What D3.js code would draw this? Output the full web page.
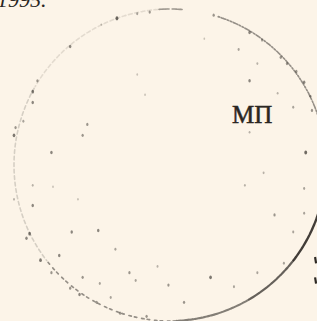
<!DOCTYPE html>
<html>
<head>
<meta charset="utf-8">
<script src="https://cdn.jsdelivr.net/npm/d3@7"></script>
<style>
  html, body { margin: 0; padding: 0; background: #fcf4e8; }
  svg { display: block; }
</style>
</head>
<body>
<svg id="chart" width="317" height="321"></svg>
<script>
// ---- data ----
const stampLabel = "МП";
const headerText = "1995.";

// ring segments: [startDeg, endDeg, ink 0..1, solid?]
const ringSegments = [
  [-4, 5, 0.45, 0],
  [18, 75, 0.5, 0],
  [75, 100, 0.25, 0],
  [100, 128, 0.95, 1],
  [128, 150, 0.75, 1],
  [150, 178, 0.6, 1],
  [178, 232, 0.5, 0],
  [232, 300, 0.15, 0],
  [300, 356, 0.08, 0]
];

// speckles in stamp units (u, v in radius units, from centre), ink 0..1
const speckleU = [-0.34,-0.64,-0.85,-0.88,-0.88,-0.94,-0.99,-1.0,-0.53,-0.56,-0.76,-0.21,-0.13,-0.44,-0.16,-0.21,
  0.28,0.51,0.59,0.44,0.51,0.71,0.75,0.81,0.86,0.90,0.91,0.79,0.87,0.69,0.22,0.56,0.51,
  -0.88,-0.90,-0.92,-0.83,-0.76,-0.71,-0.63,-0.46,-0.56,-0.64,-0.58,-0.47,-0.38,-0.35,-0.26,-0.22,-0.32,-0.15,-1.0,-0.59,-0.88,-0.75,-0.08,-0.45,
  0.26,-0.01,0.09,0.67,0.60,0.86,0.48,0.41,0.73,0.56,0.79,0.86];
const speckleV = [-0.94,-0.76,-0.54,-0.47,-0.40,-0.28,-0.24,-0.19,-0.26,-0.19,-0.08,-0.97,-0.98,-0.90,-0.45,-0.58,
  -0.96,-0.85,-0.80,-0.74,-0.54,-0.69,-0.65,-0.60,-0.53,-0.44,-0.35,-0.37,-0.08,-0.46,-0.81,-0.65,-0.21,
  0.26,0.44,0.47,0.61,0.69,0.58,0.43,0.42,0.72,0.79,0.83,0.88,0.85,0.54,0.69,0.74,0.95,0.97,0.22,0.22,0.13,0.14,0.65,0.76,
  0.72,0.77,0.88,0.32,0.05,0.15,0.13,0.78,0.63,0.69,0.43,0.31];
const speckleInk = [0.9,0.7,0.6,0.8,0.7,0.5,0.6,0.8,0.6,0.6,0.7,0.5,0.6,0.3,0.3,0.3,
  0.6,0.7,0.5,0.5,0.7,0.6,0.6,0.6,0.7,0.6,0.6,0.5,0.9,0.4,0.3,0.4,0.4,
  0.7,0.8,0.7,0.8,0.6,0.7,0.7,0.7,0.6,0.6,0.7,0.6,0.5,0.5,0.6,0.5,0.6,0.6,0.4,0.3,0.4,0.3,0.4,0.5,
  0.8,0.6,0.6,0.6,0.4,0.5,0.4,0.5,0.5,0.5,0.5,0.5];

// right-edge fragments: [u, v0, v1]
const edgeMarks = [[0.93, 0.59, 0.63], [0.93, 0.72, 0.76]];

// ---- drawing ----
const W = 317, H = 321;
const svg = d3.select("#chart");
svg.append("rect").attr("width", W).attr("height", H).attr("fill", "#fcf4e8");

const cx = 170, cy = 165, R = 156;
const xs = d3.scaleLinear().domain([-1, 1]).range([cx - R, cx + R]);
const ys = d3.scaleLinear().domain([-1, 1]).range([cy - R, cy + R]);
const ang = d3.scaleLinear().domain([0, 360]).range([0, 2 * Math.PI]);
const inkOp = d3.scaleLinear().domain([0, 1]).range([0.05, 0.95]);
const inkSize = d3.scaleLinear().domain([0, 1]).range([0.7, 1.9]);
const ink = "#2e2a25";

const g = svg.append("g").attr("transform", `translate(${cx},${cy})`);
const arc = d3.arc();
ringSegments.forEach(([a0, a1, k, solid]) => {
  const p = arc({innerRadius: R, outerRadius: R, startAngle: ang(a0), endAngle: ang(a1)});
  g.append("path")
    .attr("d", p)
    .attr("fill", "none")
    .attr("stroke", ink)
    .attr("stroke-opacity", inkOp(k))
    .attr("stroke-width", solid ? 1.4 + k : 1.6)
    .attr("stroke-dasharray", solid ? "6 2 3 1.5" : "1.5 4 2.5 5")
    .attr("stroke-linecap", "round");
});

const speckles = speckleU.map((u, i) => ({u, v: speckleV[i], k: speckleInk[i]}));
svg.append("g").selectAll("ellipse").data(speckles).join("ellipse")
  .attr("cx", d => xs(d.u))
  .attr("cy", d => ys(d.v))
  .attr("rx", d => inkSize(d.k) * 0.8)
  .attr("ry", d => inkSize(d.k) * 1.15)
  .attr("fill", ink)
  .attr("fill-opacity", d => inkOp(d.k) * 0.8);

svg.append("g").selectAll("line").data(edgeMarks).join("line")
  .attr("x1", d => xs(d[0])).attr("x2", d => xs(d[0]) + 1)
  .attr("y1", d => ys(d[1])).attr("y2", d => ys(d[2]))
  .attr("stroke", ink).attr("stroke-width", 2.2);

svg.append("text")
  .attr("x", 232).attr("y", 123)
  .attr("font-family", "Liberation Serif, serif")
  .attr("font-size", 25)
  .attr("fill", "#2a2622")
  .attr("stroke", "#2a2622").attr("stroke-width", 0.5)
  .text(stampLabel);

svg.append("text")
  .attr("x", -3).attr("y", 7)
  .attr("font-family", "Liberation Serif, serif")
  .attr("font-style", "italic")
  .attr("font-size", 22)
  .attr("fill", "#2a2622")
  .text(headerText);
</script>
</body>
</html>
